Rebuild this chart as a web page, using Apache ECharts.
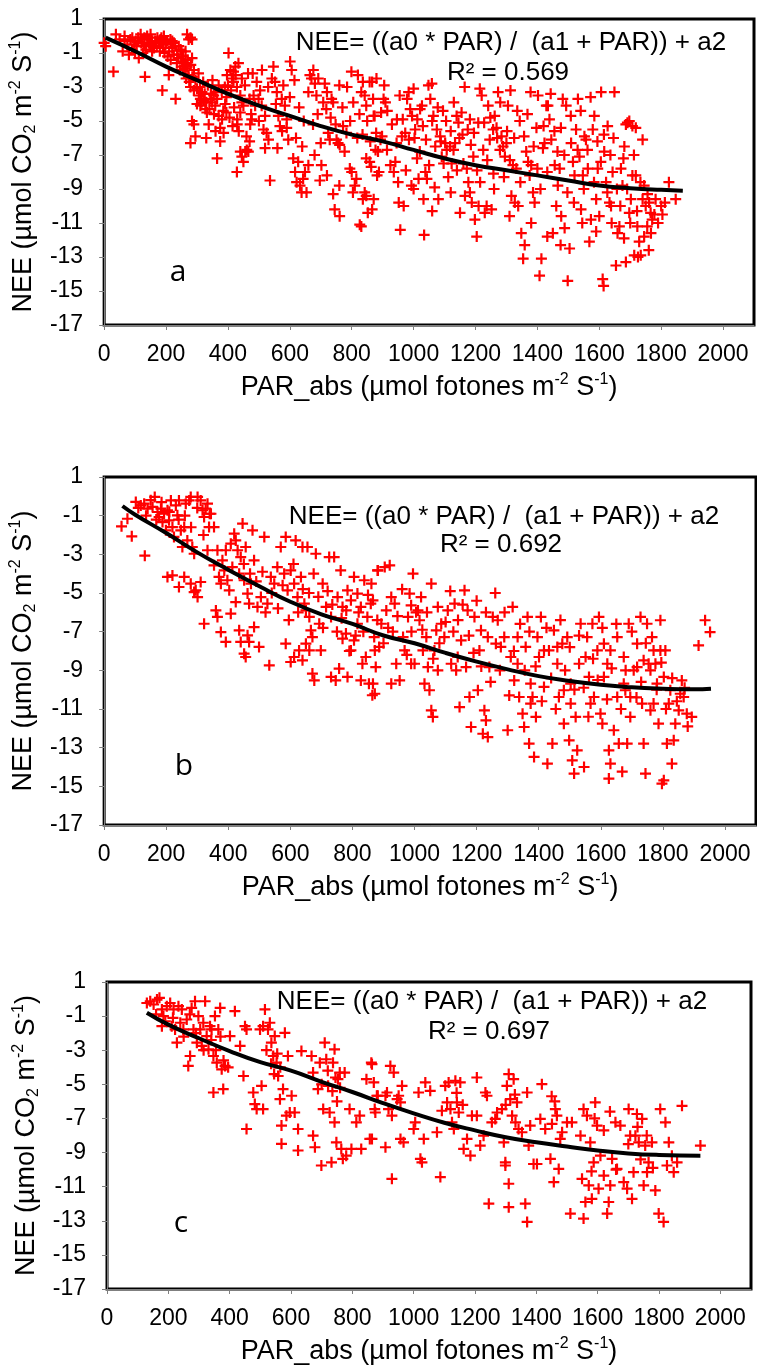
<!DOCTYPE html>
<html>
<head>
<meta charset="utf-8">
<script src="https://cdn.jsdelivr.net/npm/echarts@6/dist/echarts.min.js"></script>
<style>
html,body{margin:0;padding:0;background:#fff;}
#chart{width:757px;height:1368px;}
</style>
</head>
<body>
<div id="chart"></div>
<script>
// ---------------- DATA ----------------
const xTicks = [0, 200, 400, 600, 800, 1000, 1200, 1400, 1600, 1800, 2000];
const yTicks = [-17, -15, -13, -11, -9, -7, -5, -3, -1, 1];
const panelLetters = ['a', 'b', 'c'];
const equationText = 'NEE= ((a0 * PAR) /  (a1 + PAR)) + a2';
const r2Values = ['0.569', '0.692', '0.697'];
const xTitle = 'PAR_abs (µmol fotones m{sup|-2} S{sup|-1})';
const yTitle = 'NEE (µmol CO{sub|2} m{sup|-2} S{sup|-1})';

const aPoints = [
[0,-0.4],[5,-0.6],[30,-2.1],[38,0.1],[50,-0.2],[60,-0.9],[66,0.0],[66,-0.3],[75,-0.5],[80,-1.1],[85,-0.2],[90,-0.8],[91,-0.1],[97,-0.5],[100,-1.0],[102,-0.3],[105,-0.6],[110,-0.1],[112,-1.3],[118,0.1],[120,-0.4],[123,-0.2],[125,-1.0],[129,-0.6],[130,-0.1],[132,-2.4],[135,-0.8],[139,0.0],[140,-0.2],[145,-0.4],[148,-0.6],[150,0.1],[155,-0.3],[155,-0.9],[161,-0.7],[165,-0.3],[170,-0.6],[172,-0.1],[177,-0.4],[180,-0.9],[182,-0.2],[185,-0.1],[188,-3.2],[190,-0.7],[193,0.0],[195,-1.0],[198,-0.5],[200,-0.4],[204,-0.3],[205,-1.2],[209,-2.3],[210,-0.9],[214,-0.2],[215,-1.4],[220,-0.7],[220,-0.3],[225,-0.4],[225,-1.1],[230,-0.6],[231,-3.7],[235,-1.6],[236,-1.1],[240,-1.3],[241,-0.6],[245,-2.0],[247,-0.8],[250,-0.9],[252,-1.5],[255,-1.8],[255,-1.2],[258,-2.2],[260,-1.6],[262,-1.9],[263,-0.9],[263,-1.4],[265,-2.5],[268,0.1],[268,-1.8],[270,-1.4],[273,-0.2],[273,-2.3],[275,-2.7],[279,-0.1],[279,-3.0],[279,-6.3],[280,-1.7],[284,-1.3],[284,-0.2],[284,-5.0],[285,-2.4],[290,-2.0],[290,-5.2],[290,-3.2],[295,-5.9],[295,-2.6],
[300,-3.1],[300,-4.0],[305,-2.2],[306,-3.5],[310,-3.0],[311,-3.7],[311,-4.1],[315,-3.9],[316,-3.3],[320,-2.7],[322,-3.8],[325,-3.4],[327,-4.3],[330,-3.9],[332,-4.5],[335,-2.9],[338,-5.2],[340,-4.3],[343,-3.7],[345,-3.4],[349,-3.9],[350,-2.6],[354,-3.5],[355,-4.6],[359,-4.1],[360,-3.3],[365,-7.2],[365,-3.7],[370,-4.7],[370,-2.9],[375,-6.2],[375,-5.4],[380,-3.2],[381,-4.9],[385,-4.4],[386,-5.7],[390,-3.0],[391,-4.0],[395,-3.6],[397,-2.3],[400,-2.9],[402,-1.0],[405,-4.8],[408,-2.0],[410,-3.2],[413,-2.5],[415,-5.3],[418,-2.1],[418,-2.7],[420,-4.2],[424,-1.8],[425,-2.3],[429,-3.0],[429,-8.0],[430,-4.9],[434,-1.6],[435,-5.6],[440,-3.5],[440,-4.5],[440,-6.8],[445,-3.9],[445,-7.1],[445,-2.5],[450,-7.4],[450,-4.1],[455,-2.9],[456,-6.8],[460,-5.9],[461,-6.7],[465,-2.2],[466,-6.8],[470,-3.7],[472,-5.2],[475,-4.6],[477,-4.9],[483,-3.5],[488,-4.1],[493,-2.7],[499,-3.7],[504,-3.2],[509,-4.1],[515,-5.5],[520,-4.7],[525,-5.7],[531,-6.1],[536,-8.5],[542,-2.5],[547,-1.8],[552,-2.7],[558,-3.3],[563,-4.7],[568,-5.3],[574,-3.7],[579,-2.9],[584,-4.1],[590,-4.9],[595,-6.1],[601,-1.5],[606,-2.0],[611,-7.2],[617,-8.0],[622,-8.6],[627,-7.4],[633,-8.8],[638,-9.2],[643,-8.4],[649,-8.0],[654,-9.2],[660,-7.6],[665,-2.3],[670,-2.5],[676,-2.0],[681,-2.8],[686,-3.5],[692,-2.5],[697,-8.5],[702,-7.6],[708,-3.9],[713,-2.8],[718,-4.3],[724,-5.7],[729,-6.1],[735,-3.7],[740,-3.9],[740,-9.3],[745,-10.2],[751,-6.1],[756,-6.3],[761,-6.4],[761,-10.6],[772,-5.3],[777,-6.8],[783,-5.7],[794,-7.8],[799,-2.1],[804,-9.2],[810,-8.8],[815,-8.4],[820,-2.3],[826,-11.1],[831,-11.2],[831,-3.3],[836,-9.6],[836,-2.7],[842,-9.2],[842,-3.5],[847,-9.4],[847,-7.2],[847,-4.1],[852,-10.4],[858,-7.4],[858,-2.7],[863,-7.7],[866,-2.7],[866,-10.2],[869,-3.7],[871,-4.7],[871,-9.6],[874,-4.7],[877,-6.7],[879,-5.7],[882,-8.2],[885,-6.8],[888,-8.0],
[480,-2.2],[510,-2.0],[530,-3.0],[555,-4.0],[575,-5.6],[600,-3.6],[615,-2.6],[630,-4.2],[645,-5.0],[660,-3.3],[675,-5.2],[690,-4.6],[700,-6.3],[720,-3.3],[732,-4.8],[748,-5.2],[760,-2.9],[770,-4.2],[785,-3.0],[795,-5.0],[805,-3.9],[818,-6.0],[825,-4.6],[835,-5.8],[850,-5.0],[860,-6.2],[880,-2.5],[895,-4.5],[560,-6.6],[620,-6.0],[680,-7.0],[720,-8.2],[760,-8.8],[800,-8.0],[640,-6.5],[590,-5.4],[520,-6.6],[500,-5.0],[470,-6.2],[430,-5.2],[395,-4.5],[360,-5.6],[330,-6.0],
[893,-6.1],[898,-5.9],[903,-3.7],[909,-3.9],[914,-6.7],[925,-7.6],[936,-8.0],[941,-7.4],[946,-4.9],[952,-9.8],[957,-11.4],[962,-5.9],[968,-10.0],[973,-5.7],[979,-3.7],[984,-3.3],[989,-4.3],[995,-4.7],[1000,-3.1],[1005,-5.5],[1011,-7.2],[1016,-8.4],[1021,-4.3],[1027,-4.1],[1032,-9.6],[1034,-11.7],[1038,-8.0],[1043,-8.4],[1048,-2.9],[1054,-3.7],[1059,-2.8],[1064,-4.7],[1070,-6.5],[1075,-5.5],[1080,-9.6],[1086,-5.9],[1091,-7.1],[1097,-7.5],[1102,-6.3],[1107,-6.7],[1118,-6.5],[1123,-7.5],[1129,-6.7],[1134,-6.3],[1139,-4.7],[1145,-5.1],[1150,-10.4],[1155,-4.5],[1161,-7.5],[1166,-9.4],[1172,-7.8],[1177,-8.6],[1182,-4.9],[1182,-9.2],[1188,-9.8],[1193,-7.1],[1198,-10.8],[1204,-11.8],[1209,-5.1],[1214,-3.1],[1220,-3.5],[1225,-6.7],[1230,-10.4],[1236,-10.0],[1241,-4.1],[1246,-6.1],[1252,-10.2],[1257,-5.5],[1262,-4.7],[1268,-5.4],[1273,-3.3],[1279,-6.7],[1284,-5.9],[1289,-6.5],[1295,-7.1],[1300,-6.3],[1305,-4.1],[1311,-7.3],[1316,-9.4],[1321,-7.6],[1327,-9.8],[1332,-7.8],[1338,-10.0],[1343,-5.0],[1348,-11.6],[1354,-13.1],[1359,-12.3],[1364,-6.8],[1370,-7.4],[1375,-8.2],[1380,-7.6],[1386,-9.2],[1391,-9.8],[1397,-5.4],[1402,-3.5],[1407,-14.1],[1413,-13.1],[1418,-6.6],[1423,-6.3],[1429,-4.1],[1434,-4.1],[1439,-4.9],[1445,-6.1],[1450,-11.6],[1456,-7.6],[1461,-10.0],[1466,-8.8],[1472,-7.8],[1477,-10.6],[1482,-3.7],[1488,-11.3],[1493,-4.1],[1498,-14.4],[1504,-12.5],[1509,-6.3],[1515,-7.4],[1520,-8.2],[1525,-5.5],[1531,-3.7],[1536,-7.1],[1541,-10.2],[1547,-8.2],[1552,-5.9],[1557,-6.1],[1563,-7.8],[1568,-12.1],[1573,-10.8],[1579,-5.5],[1584,-4.7],[1590,-9.6],[1595,-7.8],[1600,-10.6],[1606,-3.3],[1611,-14.3],[1614,-14.7],[1616,-6.8],[1622,-8.6],[1627,-5.3],[1633,-9.8],[1638,-10.0],[1643,-8.0],[1649,-3.3],[1654,-13.5],[1659,-11.6],[1665,-11.2],[1670,-7.8],[1675,-8.8],[1681,-6.5],[1686,-13.3],[1686,-5.2],[1691,-5.1],[1697,-10.4],[1697,-5.0],[1702,-9.6],[1707,-8.2],[1707,-5.3],[1713,-12.9],[1718,-8.2],[1718,-5.4],[1723,-11.2],[1729,-12.1],[1734,-12.9],[1740,-9.6],[1740,-6.1],[1745,-8.8],[1750,-10.0],[1755,-11.2],[1761,-9.8],[1766,-10.4],[1771,-10.8],[1782,-9.6],[1804,-10.5],[1825,-8.6],[1847,-9.6],
[905,-2.9],[915,-4.4],[930,-5.2],[945,-6.3],[955,-3.5],[965,-4.9],[975,-7.9],[985,-6.1],[993,-8.8],[1003,-6.0],[1012,-4.9],[1020,-6.8],[1030,-5.3],[1040,-6.1],[1050,-7.6],[1060,-5.0],[1068,-8.9],[1078,-4.2],[1088,-6.2],[1095,-4.4],[1105,-5.0],[1112,-8.3],[1120,-5.6],[1130,-3.9],[1140,-7.9],[1148,-6.0],[1158,-5.8],[1165,-3.0],[1175,-5.5],[1185,-6.4],[1195,-5.7],[1205,-7.9],[1215,-8.6],[1228,-5.1],[1238,-7.3],[1248,-4.8],[1258,-8.1],[1270,-6.0],[1280,-3.9],[1292,-8.3],[1302,-5.6],[1313,-3.2],[1325,-6.0],[1335,-4.4],[1345,-8.6],[1357,-5.9],[1368,-4.6],[1378,-3.3],[1388,-6.5],[1400,-7.8],[1410,-9.0],[1420,-5.3],[1432,-8.0],[1443,-3.4],[1455,-5.6],[1465,-6.8],[1476,-5.4],[1487,-7.0],[1497,-9.2],[1508,-4.7],[1518,-9.8],[1530,-6.7],[1540,-4.4],[1550,-9.0],[1562,-6.7],[1572,-3.6],[1583,-8.6],[1594,-6.2],[1605,-7.4],[1615,-5.8],[1626,-9.2],[1636,-7.0],[1646,-6.0],[1657,-9.0],[1668,-10.0],[1678,-7.2],[1690,-9.0],[1700,-11.0],[1712,-7.0],[1722,-10.3],[1733,-8.6],[1745,-11.8],[1756,-9.3],[1767,-11.6],[1778,-10.5],[1790,-11.0],[1800,-10.0],[1812,-9.8],[1760,-12.6],[1725,-13.0],[1680,-11.9],[1640,-11.0],[1590,-11.5],[1545,-11.0],[1475,-12.3],[1432,-11.8],[1380,-11.0],[1310,-10.6],[1260,-9.0],[1210,-10.0],[1120,-9.2],[1060,-10.3],[1000,-9.0],[950,-8.6]
];
const aFit = [[5,-0.1],[100,-0.9],[200,-1.8],[300,-2.6],[400,-3.4],[500,-4.1],[600,-4.7],[700,-5.3],[800,-5.8],[900,-6.2],[1000,-6.7],[1100,-7.2],[1200,-7.6],[1300,-7.9],[1400,-8.2],[1500,-8.5],[1600,-8.8],[1700,-8.95],[1800,-9.05],[1870,-9.1]];

const bPoints = [
[56,-1.55],[75,-1.16],[89,-2.07],[131,-3.07],[102,-0.29],[118,-0.47],[129,-0.38],[140,-0.64],[156,-0.55],[163,-0.03],[172,-0.81],[177,-1.07],[183,-0.64],[188,-1.33],[193,-0.9],[199,-1.76],[204,-0.72],[209,-1.24],[215,-0.21],[220,-1.59],[225,-2.1],[231,-0.47],[236,-0.98],[241,-0.21],[247,-1.76],[252,-2.62],[258,-1.59],[263,-0.38],[268,-2.28],[274,-0.21],[279,-0.03],[284,-2.62],[290,-2.97],[301,-0.03],[311,-0.21],[317,-0.72],[322,-1.07],[327,-0.64],[333,-0.38],[338,-1.59],[344,-0.9],[354,-1.59],
[110,-0.6],[135,-1.0],[150,-0.2],[168,-1.2],[185,-0.3],[210,-0.8],[240,-1.2],[260,-1.0],[280,-1.6],[300,-0.6],[320,-2.0],[340,-0.9],
[204,-4.17],[220,-4.09],[241,-4.69],[258,-4.17],[279,-4.52],[290,-4.95],[301,-5.21],[311,-4.43],[295,-4.86],[322,-6.59],[360,-5.9],[365,-6.24],[376,-7.02],[392,-7.53],[408,-6.07],[424,-5.47],[435,-6.93],[440,-7.53],[451,-8.14],[462,-7.19],[467,-7.53],[456,-8.31],[483,-6.76],[499,-7.79],[532,-8.74],
[333,-2.79],[354,-3.57],[365,-2.79],[370,-4.17],[376,-4.52],[381,-3.31],[387,-3.83],[392,-2.79],[397,-4.34],[403,-4.86],[408,-2.45],[413,-3.66],[419,-1.93],[424,-2.28],[430,-2.79],[435,-4.0],[440,-3.14],[446,-1.41],[451,-4.34],[456,-2.62],[462,-5.03],[467,-5.55],[473,-4.52],[478,-1.76],[483,-3.31],[494,-5.72],[505,-5.21],[516,-2.1],[526,-5.55],[537,-4.17],[548,-4.52],[558,-3.66],[569,-2.62],[580,-4.0],[585,-2.1],[591,-4.86],[601,-3.83],[612,-4.52],[617,-2.28],[623,-5.21],[634,-4.17],[639,-2.62],[645,-5.55],[650,-5.9],[655,-2.62],[661,-6.24],[666,-6.93],[671,-7.28],[682,-2.97],[693,-6.59],[704,-4.52],[715,-5.72],[725,-3.14],[731,-6.24],[741,-3.14],[752,-5.21],[762,-3.83],[768,-5.72],[784,-4.86],[795,-5.38],[805,-4.17],[816,-5.03],[827,-5.72],[838,-4.34],[848,-6.24],[859,-5.55],[870,-7.28],[881,-3.83],
[450,-3.5],[470,-4.0],[490,-4.4],[510,-3.9],[520,-6.0],[540,-5.0],[560,-5.8],[575,-4.6],[595,-6.4],[610,-3.5],[625,-6.0],[640,-4.8],[660,-5.0],[675,-4.0],[690,-5.2],[705,-6.8],[720,-4.9],[735,-5.6],[750,-7.0],[765,-6.3],[780,-5.9],[790,-8.0],[810,-7.2],[820,-6.0],[835,-7.0],[850,-5.1],[880,-6.4],[900,-7.6],[915,-6.8],[930,-7.0],[945,-6.2],[960,-4.8],[975,-8.2],[990,-7.0],[1005,-6.0],[1025,-6.9],[1040,-6.0],[1060,-8.4],[1080,-7.6],[1100,-6.5],[1115,-4.9],[1125,-7.0],[1140,-6.4],[1155,-5.6],[1175,-7.2],[1190,-8.1],[1200,-5.4],[1215,-8.8],[1230,-6.0],[1245,-9.6],[1260,-5.0],[1275,-9.0],[1290,-6.0],[1305,-10.3],[1320,-8.0],[1340,-6.6],[1355,-9.0],[1370,-7.0],[1390,-8.8],[1410,-10.6],[1425,-6.8],[1440,-9.4],[1455,-11.0],[1470,-6.4],[1485,-9.0],[1500,-7.8],[1515,-10.0],[1530,-7.2],[1545,-9.9],[1560,-11.4],[1575,-8.4],[1590,-9.5],[1605,-6.8],[1620,-10.5],[1635,-8.9],[1650,-6.6],[1665,-11.0],[1680,-9.0],[1700,-7.0],[1715,-10.4],[1730,-9.6],[1745,-7.6],[1760,-9.0],[1780,-10.0],[1795,-8.6],[1810,-11.0],[1830,-9.4],[1845,-10.6],[1870,-9.9],[1880,-11.9],
[585,-7.62],[601,-8.57],[612,-8.31],[628,-7.97],[639,-8.48],[650,-7.62],[661,-7.97],[671,-9.17],[677,-9.52],[698,-7.97],[731,-9.34],[746,-9.52],[757,-8.91],[768,-7.36],[779,-7.1],[784,-9.34],[795,-7.97],[805,-7.45],[816,-6.59],[827,-9.52],[832,-8.66],[843,-8.31],[853,-9.69],[864,-10.29],[875,-8.83],[886,-7.79],
[861,-4.52],[866,-5.38],[872,-7.97],[866,-9.69],[872,-10.21],[882,-3.83],[904,-3.66],[920,-3.57],[893,-6.59],[909,-5.9],[925,-5.21],[936,-5.55],[941,-8.66],[952,-9.52],[963,-7.28],[968,-7.97],[979,-6.24],[984,-5.03],[989,-5.64],[995,-4.0],[1000,-8.66],[1011,-5.9],[1016,-6.41],[1021,-5.21],[1027,-7.97],[1032,-9.69],[1038,-7.28],[1043,-8.83],[1048,-10.03],[1054,-11.07],[1059,-11.41],[1054,-4.52],[1064,-7.97],[1070,-6.93],[1075,-5.72],[1086,-6.59],[1096,-7.28],[1107,-5.9],[1118,-8.66],[1129,-5.55],[1134,-9.0],[1145,-10.9],[1150,-7.45],[1161,-4.86],[1166,-8.83],[1171,-5.9],[1177,-10.38],[1182,-11.93],[1193,-6.24],[1204,-10.03],[1209,-7.97],[1214,-6.93],[1220,-12.28],[1225,-11.07],[1230,-11.59],[1236,-12.45],[1241,-8.83],[1252,-6.24],[1262,-7.62],[1268,-6.41],[1278,-7.79],[1289,-7.28],[1300,-12.1],[1310,-8.31],[1316,-5.72],[1321,-9.52],[1332,-7.28],[1337,-10.38],[1348,-11.24],[1353,-11.93],[1358,-7.79],[1364,-6.24],[1369,-12.79],[1374,-9.69],[1380,-10.38],[1385,-13.48],[1391,-11.41],[1396,-7.28],[1401,-8.31],[1407,-6.24],[1417,-9.86],[1428,-13.83],[1433,-7.97],[1444,-12.79],[1449,-6.93],[1460,-8.66],[1465,-10.38],[1476,-7.62],[1481,-11.76],[1492,-7.28],[1498,-12.62],[1503,-10.72],[1508,-13.66],[1514,-14.34],[1519,-11.41],[1524,-13.14],[1530,-8.66],[1535,-6.59],[1546,-14.0],[1551,-8.31],[1562,-9.34],[1573,-6.59],[1578,-10.38],[1589,-7.97],[1594,-6.24],[1599,-11.24],[1605,-11.76],[1610,-7.62],[1621,-8.66],[1626,-13.14],[1626,-14.6],[1631,-13.83],[1642,-12.1],[1653,-7.28],[1658,-12.79],[1669,-14.24],[1674,-8.31],[1679,-10.03],[1685,-12.79],[1690,-6.59],[1695,-11.41],[1706,-9.0],[1717,-7.62],[1728,-6.24],[1733,-10.72],[1738,-12.79],[1744,-14.34],[1749,-6.59],[1754,-8.66],[1760,-11.07],[1765,-7.28],[1770,-10.72],[1776,-8.66],[1781,-9.69],[1786,-11.76],[1792,-6.41],[1797,-14.86],[1803,-14.69],[1808,-7.97],[1813,-12.79],[1819,-10.72],[1829,-13.83],[1835,-12.62],[1840,-11.76],[1851,-11.07],[1861,-9.52],[1867,-10.38],[1877,-11.24],[1893,-11.41],[1915,-7.71],[1936,-6.41],[1952,-7.02],
[1417,-7.97],[1460,-7.79],[1503,-9.69],[1556,-7.28],[1610,-9.34],[1631,-7.97],[1674,-9.69],[1717,-8.83],[1770,-7.97],[1803,-9.34],[1824,-10.03],[1856,-10.21],[1792,-7.97],[1738,-8.48],[1695,-10.38],[1653,-10.38],[1567,-10.72],[1481,-10.03],[1374,-10.72],[1332,-8.66],[1236,-7.28],[1139,-8.31],[1075,-9.0],[989,-8.66],[925,-9.69]
];
const bFit = [[59,-0.5],[100,-0.95],[200,-1.9],[300,-2.9],[400,-3.8],[500,-4.65],[600,-5.45],[700,-6.1],[800,-6.6],[900,-7.2],[1000,-7.6],[1100,-8.1],[1200,-8.55],[1300,-8.95],[1400,-9.3],[1500,-9.55],[1600,-9.75],[1700,-9.88],[1800,-9.95],[1900,-9.98],[1955,-9.95]];

const cPoints = [
[130,-0.23],[141,-0.13],[152,-0.32],[163,-0.03],[171,0.07],[179,-0.61],[184,-1.0],[179,-1.59],[195,-0.42],[206,-0.23],[211,-1.59],[217,-0.61],[222,-1.78],[228,-2.56],[233,-0.42],[239,-1.39],[244,-0.61],[249,-1.78],[260,-1.2],[265,-3.92],[271,-3.34],[276,-0.52],[282,-1.78],[287,-0.13],[293,-2.56],[298,-1.0],[304,-1.78],[309,-2.75],[314,-1.39],[320,-0.13],[325,-2.17],[331,-2.95],[336,-1.59],[341,-1.78],[347,-5.48],[347,-3.34],[352,-1.0],[358,-3.73],[363,-1.78],[369,-0.52],[374,-4.12],[379,-5.28],[385,-3.92],[401,-2.17],[417,-0.71],[434,-2.75],[445,-4.51],[455,-1.78],[450,-1.59],[455,-7.62],[477,-5.48],[482,-6.16],[488,-6.45],[509,-6.45],[504,-5.09],[499,-1.78],[509,-1.59],[515,-0.61],[525,-1.78],[531,-1.39],[536,-2.56],[542,-3.34],[547,-2.17],[553,-3.73],[558,-4.51],[564,-5.87],[569,-7.42],[569,-8.49],[574,-5.28],[580,-1.98],[585,-6.84],[590,-3.34],[596,-6.65],[602,-5.67],[612,-6.65],[623,-7.62],[623,-8.88],[634,-3.05],[667,-3.34],[672,-8.01],[672,-4.31],[678,-8.69],[688,-5.28],[694,-3.73],[699,-9.76],[705,-6.45],[710,-2.56],[715,-3.53],[721,-5.09],[726,-6.65],[732,-9.57],[737,-3.73],[742,-2.95],[742,-7.23],[748,-8.4],[753,-4.7],[759,-4.31],[764,-8.79],[769,-9.37],[775,-4.31],[780,-9.18],[791,-6.45],[797,-8.79],[813,-7.23],[824,-6.84],[829,-8.79],[846,-4.7],[857,-8.2],[862,-3.73],[873,-6.45],[883,-5.67],
[160,-0.9],[190,-1.3],[215,-1.1],[250,-2.2],[270,-0.9],[290,-2.0],[315,-3.0],[340,-2.4],[355,-3.0],[370,-2.2],[380,-3.6],[395,-4.0],[520,-3.0],[535,-3.8],[545,-4.4],[555,-3.2],[565,-4.0],[700,-5.0],[720,-4.2],[735,-5.4],[750,-6.0],[760,-5.2],[745,-4.6],
[864,-3.82],[870,-4.89],[880,-5.67],[875,-6.65],[864,-8.2],[908,-5.67],[913,-5.48],[918,-6.45],[924,-3.92],[929,-6.84],[935,-4.31],[946,-5.87],[951,-5.67],[957,-6.06],[962,-5.09],[908,-8.69],[929,-10.54],[957,-8.2],[967,-8.4],[1000,-7.62],[1005,-7.23],[1016,-5.48],[1022,-9.37],[1027,-9.57],[1033,-8.2],[1038,-4.89],[1054,-5.38],[1076,-7.81],[1087,-10.44],[1092,-6.55],[1103,-5.09],[1109,-6.06],[1114,-4.89],[1120,-6.45],[1125,-7.23],[1131,-7.62],[1136,-4.79],[1141,-6.06],[1147,-6.65],[1152,-4.89],[1163,-8.79],[1174,-8.2],[1185,-9.18],[1190,-6.84],[1206,-4.6],[1206,-6.84],[1217,-8.59],[1228,-8.01],[1234,-5.48],[1239,-5.67],[1245,-12.0],[1255,-7.23],[1266,-7.03],[1272,-6.65],[1288,-6.45],[1294,-8.4],[1299,-9.76],[1299,-9.57],[1304,-5.09],[1310,-10.83],[1310,-12.2],[1315,-5.87],[1321,-6.84],[1326,-4.7],[1332,-7.23],[1337,-6.06],[1342,-7.62],[1353,-7.81],[1364,-12.0],[1370,-13.07],[1370,-5.48],[1375,-8.59],[1380,-7.42],[1391,-9.67],[1402,-9.67],[1413,-7.03],[1418,-4.99],[1429,-7.62],[1446,-9.37],[1451,-7.32],[1457,-10.73],[1462,-6.45],[1467,-6.84],[1473,-9.96],[1478,-8.2],[1484,-7.81],[1500,-7.23],[1511,-12.58],[1516,-7.23],[1544,-8.01],[1549,-10.54],[1554,-6.45],[1554,-12.87],[1560,-11.9],[1565,-6.84],[1571,-10.93],[1576,-8.4],[1581,-11.71],[1587,-9.57],[1592,-6.06],[1598,-7.42],[1603,-11.12],[1609,-9.18],[1620,-10.35],[1631,-12.58],[1636,-11.9],[1641,-10.93],[1647,-9.37],[1658,-7.23],[1663,-9.96],[1674,-7.42],[1685,-10.73],[1696,-11.12],[1701,-6.45],[1706,-8.01],[1712,-11.71],[1717,-10.15],[1723,-8.01],[1728,-6.74],[1734,-8.4],[1745,-7.03],[1750,-10.93],[1755,-8.59],[1761,-10.15],[1766,-9.57],[1777,-8.4],[1788,-11.22],[1799,-12.58],[1804,-6.45],[1815,-13.07],[1821,-7.23],[1826,-9.76],[1832,-8.4],[1842,-9.18],[1848,-10.15],[1859,-9.57],[1875,-6.26],[1935,-8.59],
[1140,-5.5],[1160,-6.2],[1300,-6.2],[1310,-4.4],[1330,-5.6],[1450,-5.7],[1460,-6.0],[1590,-7.0],[1620,-7.7],[1640,-6.6],[1700,-8.5],[1730,-7.5],[1740,-9.4],[1760,-8.0],[1780,-9.9],[1660,-10.0],[1580,-10.1]
];
const cFit = [[130,-0.8],[200,-1.5],[300,-2.3],[400,-3.05],[500,-3.7],[600,-4.2],[700,-4.85],[800,-5.45],[900,-6.1],[1000,-6.7],[1100,-7.25],[1200,-7.7],[1300,-8.1],[1400,-8.4],[1500,-8.65],[1600,-8.88],[1700,-9.05],[1800,-9.14],[1935,-9.18]];

// ---------------- LAYOUT / STYLE ----------------
const FONT = '"Liberation Sans", Arial, sans-serif';
const grids = [
  {left: 103, top: 19, width: 651, height: 306},
  {left: 103, top: 477, width: 653, height: 348},
  {left: 107, top: 982, width: 644, height: 309}
];
const eqPos = [[511, 43, 73], [504, 517, 545], [492, 1002, 1032]];
const letterPos = [[178, 272], [184, 766], [181, 1223]];
const plusPath = 'path://M4,0L6,0L6,4L10,4L10,6L6,6L6,10L4,10L4,6L0,6L0,4L4,4Z';
const richTitle = {
  sup: {fontSize: 16, verticalAlign: 'top', lineHeight: 17, fontFamily: FONT, color: '#000'},
  sub: {fontSize: 16, verticalAlign: 'bottom', lineHeight: 17, fontFamily: FONT, color: '#000'}
};
const panelPoints = [aPoints, bPoints, cPoints];
const panelFits = [aFit, bFit, cFit];

const option = {
  animation: false,
  backgroundColor: '#fff',
  grid: grids.map(g => Object.assign({show: true, borderColor: '#000', borderWidth: 3, backgroundColor: 'transparent'}, g)),
  xAxis: grids.map((g, i) => ({
    type: 'value', gridIndex: i, min: 0, max: 2100,
    axisLine: {show: true, onZero: false, lineStyle: {color: '#7f7f7f', width: 1}},
    axisTick: {show: true, inside: false, length: 5, customValues: xTicks, lineStyle: {color: '#7f7f7f'}},
    axisLabel: {customValues: xTicks, fontSize: 23, color: '#000', fontFamily: FONT, margin: 18, formatter: v => String(v)},
    splitLine: {show: false},
    name: xTitle, nameLocation: 'middle', nameGap: 47,
    nameTextStyle: {fontSize: 27, lineHeight: 31, color: '#000', fontFamily: FONT, rich: richTitle}
  })),
  yAxis: grids.map((g, i) => ({
    type: 'value', gridIndex: i, min: -17, max: 1,
    axisLine: {show: true, onZero: false, lineStyle: {color: '#7f7f7f', width: 1}},
    axisTick: {show: true, inside: false, length: 5, customValues: yTicks, lineStyle: {color: '#7f7f7f'}},
    axisLabel: {customValues: yTicks, fontSize: 23, color: '#000', fontFamily: FONT, margin: 21, formatter: v => String(v)},
    splitLine: {show: false},
    name: yTitle, nameLocation: 'middle', nameRotate: 90, nameGap: 53,
    nameTextStyle: {fontSize: 27, lineHeight: 31, color: '#000', fontFamily: FONT, rich: richTitle}
  })),
  series: [].concat(
    panelPoints.map((pts, i) => ({
      type: 'scatter', xAxisIndex: i, yAxisIndex: i, data: pts,
      symbol: plusPath, symbolSize: 11,
      itemStyle: {color: '#ff0000', opacity: 1}, z: 2
    })),
    panelFits.map((fit, i) => ({
      type: 'line', xAxisIndex: i, yAxisIndex: i, data: fit,
      smooth: true, showSymbol: false, symbol: 'none',
      lineStyle: {color: '#000', width: 4}, z: 3
    }))
  ),
  graphic: [].concat(
    eqPos.map((p, i) => ({
      type: 'text', x: p[0], y: p[1], z: 10,
      style: {text: equationText, fontSize: 26, fontFamily: FONT, fill: '#000', align: 'center', verticalAlign: 'middle'}
    })),
    eqPos.map((p, i) => ({
      type: 'text', x: p[0] - 3, y: p[2], z: 10,
      style: {text: 'R² = ' + r2Values[i], fontSize: 26, fontFamily: FONT, fill: '#000', align: 'center', verticalAlign: 'middle'}
    })),
    letterPos.map((p, i) => ({
      type: 'text', x: p[0], y: p[1], z: 10,
      style: {text: panelLetters[i], fontSize: 30, fontFamily: '"Open Sans", sans-serif', fill: '#000', align: 'center', verticalAlign: 'middle'}
    }))
  )
};

const chart = echarts.init(document.getElementById('chart'), null, {renderer: 'canvas', width: 757, height: 1368});
chart.setOption(option);
</script>
</body>
</html>
